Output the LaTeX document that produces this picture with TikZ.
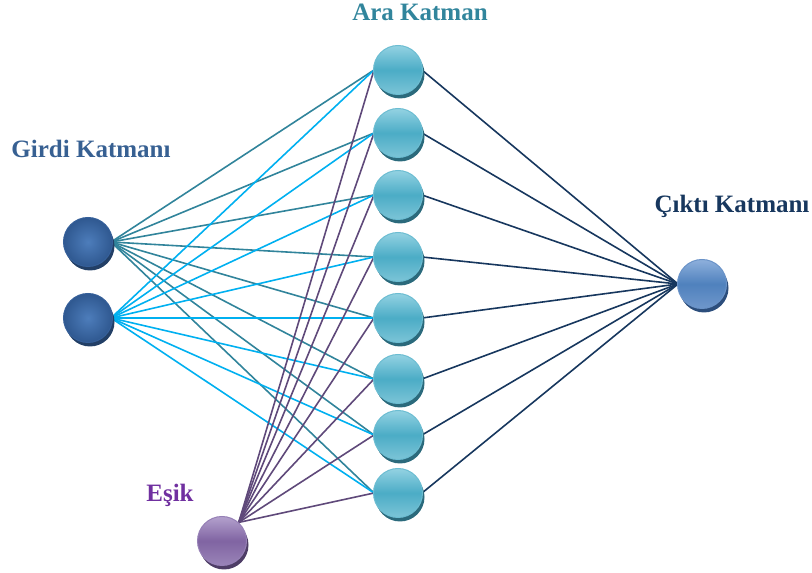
\documentclass[tikz,border=0pt]{standalone}
\usepackage{fontspec}
\setmainfont{Liberation Serif}
\usetikzlibrary{shadows,backgrounds}
\definecolor{inC}{HTML}{4D7DBB}
\definecolor{inO}{HTML}{2F5890}
\definecolor{inR}{HTML}{36609A}
\definecolor{inS}{HTML}{223F66}
\definecolor{hidT}{HTML}{93D2E2}
\definecolor{hidM}{HTML}{4BACC6}
\definecolor{hidB}{HTML}{7CC4D7}
\definecolor{hidS}{HTML}{2B6A7C}
\definecolor{hidR}{HTML}{6CBDD2}
\definecolor{outT}{HTML}{8EB0DC}
\definecolor{outM}{HTML}{4F81BD}
\definecolor{outB}{HTML}{6F97CB}
\definecolor{outS}{HTML}{2C4E7C}
\definecolor{outR}{HTML}{6A93C8}
\definecolor{biaT}{HTML}{B3A1CD}
\definecolor{biaM}{HTML}{8064A2}
\definecolor{biaB}{HTML}{9A84B8}
\definecolor{biaS}{HTML}{4E3D66}
\definecolor{biaR}{HTML}{9680B6}
\definecolor{lnTeal}{HTML}{31849B}
\definecolor{lnCyan}{HTML}{00B0F0}
\definecolor{lnPurp}{HTML}{5F497A}
\definecolor{lnNavy}{HTML}{17375E}
\definecolor{txGirdi}{HTML}{376092}
\definecolor{txAra}{HTML}{31859C}
\definecolor{txCikti}{HTML}{17375E}
\definecolor{txEsik}{HTML}{7030A0}
\pgfdeclareverticalshading{hidshade}{100bp}{color(0bp)=(hidB); color(25bp)=(hidB); color(50bp)=(hidM); color(75bp)=(hidT); color(100bp)=(hidT)}
\pgfdeclareverticalshading{outshade}{100bp}{color(0bp)=(outB); color(25bp)=(outB); color(50bp)=(outM); color(75bp)=(outT); color(100bp)=(outT)}
\pgfdeclareverticalshading{biashade}{100bp}{color(0bp)=(biaB); color(25bp)=(biaB); color(50bp)=(biaM); color(75bp)=(biaT); color(100bp)=(biaT)}
\tikzset{
  neuron/.style={circle, minimum size=49pt, inner sep=0pt, line width=1pt},
  inneuron/.style={neuron, inner color=inC, outer color=inO, draw=inR,
    drop shadow={shadow xshift=2pt, shadow yshift=-4pt, opacity=1, fill=inS}},
  hidneuron/.style={neuron, shading=hidshade, draw=hidR,
    drop shadow={shadow xshift=2pt, shadow yshift=-4pt, opacity=1, fill=hidS}},
  outneuron/.style={neuron, shading=outshade, draw=outR,
    drop shadow={shadow xshift=2pt, shadow yshift=-4pt, opacity=1, fill=outS}},
  bianeuron/.style={neuron, shading=biashade, draw=biaR,
    drop shadow={shadow xshift=2pt, shadow yshift=-4pt, opacity=1, fill=biaS}},
  conn/.style={line width=1.6pt},
  lbl/.style={font=\fontsize{25}{28}\selectfont\bfseries, anchor=base, inner sep=0pt}
}
\begin{document}
\begin{tikzpicture}[x=1pt,y=1pt]
\useasboundingbox (0,0) rectangle (812,573);
% nodes
\node[inneuron] (i1) at (88,331) {};
\node[inneuron] (i2) at (88,255) {};
\foreach \n/\y in {1/503,2/440,3/378,4/316,5/255,6/194,7/138,8/80}
  \node[hidneuron] (h\n) at (398,\y) {};
\node[outneuron] (o) at (702,289) {};
\node[bianeuron] (b) at (222,32) {};
% labels
\node[lbl, text=txGirdi] (lg) at (91,415) {Girdi Katmanı};
\node[lbl, text=txAra] (la) at (420,552) {Ara Katman};
\node[lbl, text=txCikti] (lc) at (732,360) {Çıktı Katmanı};
\node[lbl, text=txEsik] (le) at (170,71) {Eşik};
% connectors
\begin{pgfonlayer}{background}
\foreach \n in {1,...,8} {
  \draw[conn, lnTeal] ([xshift=-2pt]i1.east) -- ([xshift=1pt]h\n.west);
}
\foreach \n in {1,...,8} {
  \draw[conn, lnCyan] ([xshift=-2pt]i2.east) -- ([xshift=1pt]h\n.west);
}
\foreach \n in {1,...,8} {
  \draw[conn, lnPurp] (b.48) -- ([xshift=1pt]h\n.west);
}
\foreach \n in {1,...,8} {
  \draw[conn, lnNavy] ([xshift=-1pt]h\n.east) -- ([xshift=1pt]o.west);
}
\end{pgfonlayer}
\end{tikzpicture}
\end{document}
